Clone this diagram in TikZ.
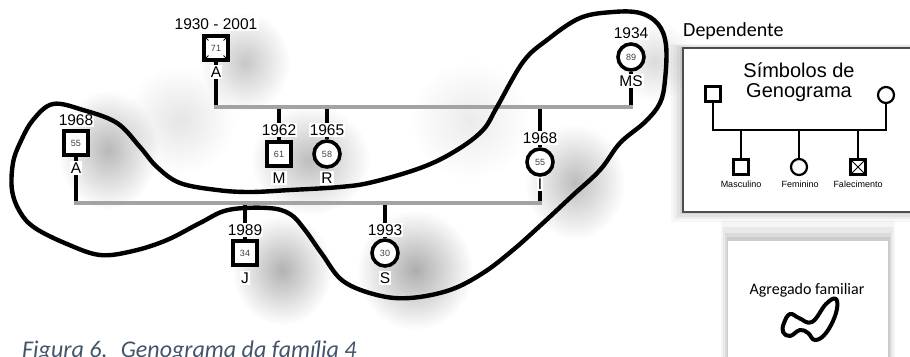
\documentclass[tikz,border=0pt]{standalone}
\usepackage{fontspec}
\setmainfont{Liberation Sans}
\newfontfamily\calibri{Carlito}
\usetikzlibrary{fadings}
\tikzfading[name=softblob, inner color=transparent!0, outer color=transparent!100]
\definecolor{capblue}{RGB}{68,84,106}
\pgfdeclarelayer{blur}
\pgfdeclarelayer{lines}
\pgfsetlayers{blur,lines,main}
\begin{document}
\begin{tikzpicture}[x=1pt,y=-1pt,
  man/.style={draw, line width=3.6pt, minimum size=23.5pt, inner sep=0pt, fill=white, text=black!75, font=\fontsize{9}{9}\selectfont},
  woman/.style={circle, draw, line width=3.6pt, minimum size=26pt, inner sep=0pt, fill=white, text=black!75, font=\fontsize{9}{9}\selectfont},
  yr/.style={fill=white, inner sep=1.2pt, font=\fontsize{15.5}{15.5}\selectfont},
  kin/.style={line width=3.1pt},
  union/.style={line width=4pt, draw=gray!72, line cap=rect},
  loopline/.style={line width=4.4pt, line join=round},
  lman/.style={draw, line width=2.2pt, minimum size=15pt, inner sep=0pt, fill=white},
  lwoman/.style={circle, draw, line width=2.2pt, minimum size=16pt, inner sep=0pt, fill=white},
  lkin/.style={line width=2.2pt},
  lsmall/.style={font=\fontsize{9}{9}\selectfont, inner sep=0pt},
  blob/.style={black, path fading=softblob, fill opacity=#1},
  blob/.default=0.3]
\useasboundingbox (0,0) rectangle (910,356);
\clip (0,0) rectangle (910,356);

% ---------- blurred grey background ----------
\begin{pgfonlayer}{blur}
  \fill[blob=0.22] (245,62) ellipse (45 and 50);
  \fill[blob=0.26] (310,160) ellipse (60 and 55);
  \fill[blob=0.28] (108,150) ellipse (50 and 60);
  \fill[blob=0.30] (282,270) ellipse (50 and 55);
  \fill[blob=0.32] (415,270) ellipse (58 and 60);
  \fill[blob=0.26] (575,182) ellipse (50 and 58);
  \fill[blob=0.14] (655,62) circle (40);
  \fill[blob=0.10] (180,120) circle (55);
  \fill[blob=0.08] (470,120) circle (60);
  % legend box shadow
  \foreach \s/\o in {12/0.03,9/0.04,6/0.05,3/0.06}{
    \fill[black, opacity=\o] (683-\s,48-0.3*\s) rectangle (915,212+0.8*\s);
  }
  % lower box shadow
  \foreach \s/\o in {14/0.04,10/0.05,6/0.06,3/0.07}{
    \fill[black, opacity=\o] (728-0.5*\s,241-1.4*\s) rectangle (888+0.5*\s,360);
  }
\end{pgfonlayer}

% ---------- genogram people ----------
\node[man] (pA) at (216,48) {71};
\node[yr] (yA) at (216,24) {1930 - 2001};
\node[yr] (lA) at (216,72) {A};
\draw[line width=0.9pt]
  ([shift={(1.8,1.8)}]pA.north west) -- ([shift={(6,6)}]pA.north west)
  ([shift={(-1.8,1.8)}]pA.north east) -- ([shift={(-6,6)}]pA.north east)
  ([shift={(1.8,-1.8)}]pA.south west) -- ([shift={(6,-6)}]pA.south west)
  ([shift={(-1.8,-1.8)}]pA.south east) -- ([shift={(-6,-6)}]pA.south east);

\node[woman] (pMS) at (631,57) {89};
\node[yr] (yMS) at (631,33) {1934};
\node[yr] (lMS) at (631,81) {MS};

\node[man] (pM) at (279,154) {61};
\node[yr] (yM) at (279,130) {1962};
\node[yr] (lM) at (279,178) {M};

\node[woman] (pR) at (327,154) {58};
\node[yr] (yR) at (327,130) {1965};
\node[yr] (lR) at (327,178) {R};

\node[woman] (pI) at (540,162) {55};
\node[yr] (yI) at (540,138) {1968};
\node[yr] (lI) at (540,184) {I};

\node[man] (pA2) at (76,143) {55};
\node[yr] (yA2) at (76,120) {1968};
\node[yr] (lA2) at (76,168) {A};

\node[man] (pJ) at (245,253) {34};
\node[yr] (yJ) at (245,230) {1989};
\node[yr] (lJ) at (245,278) {J};

\node[woman] (pS) at (385,253) {30};
\node[yr] (yS) at (385,230) {1993};
\node[yr] (lS) at (385,278) {S};

% union and child junctions
\coordinate (uA) at (216,107);
\coordinate (uMS) at (631,107);
\coordinate (cM) at (279,107);
\coordinate (cR) at (327,107);
\coordinate (cI) at (540,107);
\coordinate (dA2) at (76,203);
\coordinate (dI) at (540,203);
\coordinate (cJ) at (245,203);
\coordinate (cS) at (385,203);

\begin{pgfonlayer}{lines}
  \draw[kin] (pA) -- (uA);
  \draw[kin] (pMS) -- (uMS);
  \draw[kin] (cM) -- (pM);
  \draw[kin] (cR) -- (pR);
  \draw[kin] (cI) -- (pI);
  \draw[kin] (pI) -- (dI);
  \draw[kin] (pA2) -- (dA2);
  \draw[kin] (cJ) -- (pJ);
  \draw[kin] (cS) -- (pS);
  \draw[union] (uA) -- (uMS);
  \draw[union] (dA2) -- (dI);
\end{pgfonlayer}

% ---------- household outline ----------
\draw[loopline] plot[smooth cycle, tension=0.6] coordinates {
  (53,104) (83,110) (117,123) (140,147) (157,167) (180,183) (217,190) (250,192)
  (290,190) (340,187) (373,182) (423,167) (457,150) (483,130) (497,107) (523,62)
  (547,40) (580,18) (613,12) (640,13) (658,24) (666,45) (665,80) (660,103) (645,122)
  (620,143) (600,170) (572,196) (542,224) (513,250) (483,273) (450,290) (410,298)
  (377,295) (343,281) (322,254) (305,230) (290,214) (268,208) (228,210) (200,223)
  (167,240) (133,251) (100,255) (67,244) (35,228) (20,212) (12,190) (13,163)
  (20,143) (33,120)};

% ---------- legend box ----------
\node[anchor=west, inner sep=0pt, font=\calibri\fontsize{20}{20}\selectfont] (dep) at (683,31) {Dependente};
\draw[fill=white, draw=black!70, line width=1.3pt] (683,48) rectangle (915,212);
\node[font=\fontsize{20}{20}\selectfont, inner sep=0pt] (sym1) at (799,70) {Símbolos de};
\node[font=\fontsize{20}{20}\selectfont, inner sep=0pt] (sym2) at (799,93) {Genograma};
\node[lman] (lm) at (713,94) {};
\node[lwoman] (lf) at (886,95) {};
\coordinate (lj1) at (713,130);
\coordinate (lj2) at (886,130);
\coordinate (ld1) at (741,130);
\coordinate (ld2) at (799,130);
\coordinate (ld3) at (858,130);
\node[lman] (lc1) at (741,167) {};
\node[lwoman] (lc2) at (799,167) {};
\node[lman] (lc3) at (858,167) {};
\draw[line width=0.9pt] (lc3.north west) -- (lc3.south east) (lc3.north east) -- (lc3.south west);
\draw[lkin] (lm) -- (lj1) -- (lj2) -- (lf);
\draw[lkin] (ld1) -- (lc1);
\draw[lkin] (ld2) -- (lc2);
\draw[lkin] (ld3) -- (lc3);
\node[lsmall] (t1) at (741,184) {Masculino};
\node[lsmall] (t2) at (800,184) {Feminino};
\node[lsmall] (t3) at (858,184) {Falecimento};

% ---------- lower box ----------
\fill[white] (728,241) rectangle (888,360);
\node[font=\calibri\fontsize{16}{16}\selectfont, inner sep=0pt] (agr) at (807,290) {Agregado familiar};
\draw[line width=4pt, line join=round] plot[smooth cycle, tension=0.7] coordinates {
  (784,323) (790,314) (799,318) (812,322) (826,304) (836,299) (836,313) (826,333)
  (815,340) (808,333) (800,330) (790,336) (783,332)};

% ---------- caption ----------
\node[anchor=base west, inner sep=0pt, text=capblue, font=\calibri\itshape\fontsize{24}{24}\selectfont] (cap) at (22,357.5) {Figura 6.\hspace{0.25em} Genograma da família 4};
\end{tikzpicture}
\end{document}
